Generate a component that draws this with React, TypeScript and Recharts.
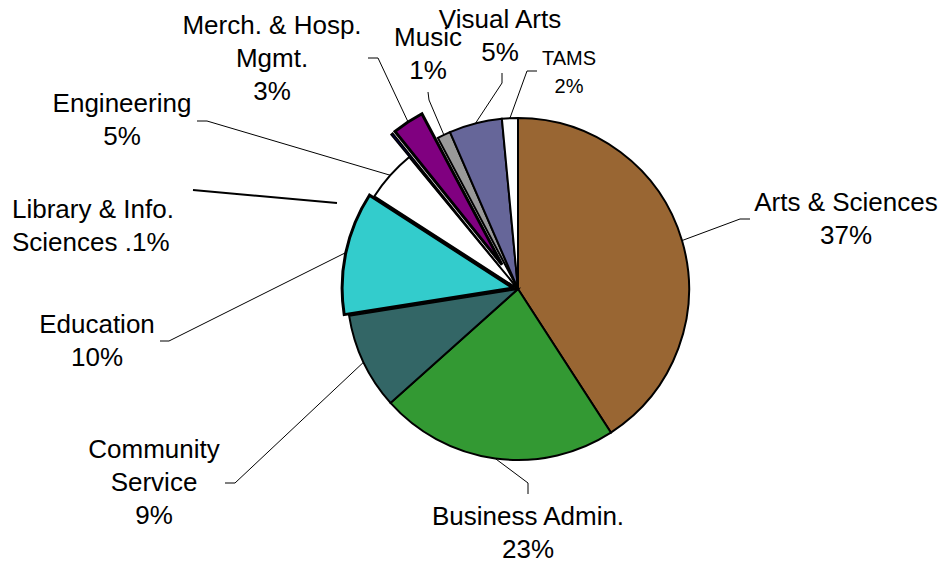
import React from "react";
import { Cell, Pie, PieChart, Sector } from "recharts";

// slices in clockwise order from 12 o'clock
const colleges = [
  "Arts & Sciences",
  "Business Admin.",
  "Community Service",
  "Education",
  "Engineering",
  "Library & Info. Sciences",
  "Merch. & Hosp. Mgmt.",
  "Music",
  "Visual Arts",
  "TAMS",
];
const shares = [40.8, 22.5, 9.1, 11.6, 4.9, 0.2, 3.0, 1.25, 5.0, 1.5];
const labelLines = [
  ["Arts & Sciences", "37%"],
  ["Business Admin.", "23%"],
  ["Community", "Service", "9%"],
  ["Education", "10%"],
  ["Engineering", "5%"],
  ["Library & Info.", "Sciences .1%"],
  ["Merch. & Hosp.", "Mgmt.", "3%"],
  ["Music", "1%"],
  ["Visual Arts", "5%"],
  ["TAMS", "2%"],
];

const sliceColors = [
  "#996633",
  "#339933",
  "#336666",
  "#33CCCC",
  "#FFFFFF",
  "#000080",
  "#800080",
  "#999999",
  "#666699",
  "#FFFFFF",
];
const explode = [0, 0, 0, 5, 0, 29, 29, 0, 0, 0];

// text position (first baseline) and leader bends, in chart pixels
const labelLayout: any[] = [
  { x: 846, y: 211, anchor: "middle", leader: [[740, 219], [750, 219]] },
  { x: 528, y: 525, anchor: "middle", leader: [[528, 483], [528, 494]] },
  { x: 154, y: 458, anchor: "middle", leader: [[235, 483], [225, 483]] },
  { x: 97, y: 333, anchor: "middle", leader: [[169, 341], [160, 341]] },
  { x: 122, y: 112, anchor: "middle", leader: [[207, 121], [197, 121]] },
  { x: 12, y: 218, anchor: "start", from: [337, 203], leader: [[193, 190]], lw: 2 },
  { x: 272, y: 34, anchor: "middle", leader: [[378, 58], [368, 58]] },
  { x: 428, y: 46, anchor: "middle", leader: [[429, 100], [428, 92]] },
  { x: 500, y: 28, anchor: "middle", leader: [[502, 83], [502, 73]] },
  { x: 569, y: 65, anchor: "middle", leader: [[527, 71], [537, 71]], small: true },
];

const data = colleges.map((name, i) => ({ name, value: shares[i] }));
const RAD = Math.PI / 180;

function renderLabel(props: any) {
  const { cx, cy, midAngle, innerRadius, outerRadius, startAngle, endAngle, index } = props;
  const off = explode[index];
  const ox = cx + off * Math.cos(-midAngle * RAD);
  const oy = cy + off * Math.sin(-midAngle * RAD);
  const lay = labelLayout[index];
  const start = lay.from || [
    ox + outerRadius * Math.cos(-midAngle * RAD),
    oy + outerRadius * Math.sin(-midAngle * RAD),
  ];
  const pts = [start, ...lay.leader].map((p: number[]) => p.join(",")).join(" ");
  const fs = lay.small ? 20 : 26;
  const lh = lay.small ? 28 : 33;
  return (
    <g key={`lbl-${index}`}>
      {off > 0 && (
        <Sector
          cx={ox}
          cy={oy}
          innerRadius={innerRadius}
          outerRadius={outerRadius}
          startAngle={startAngle}
          endAngle={endAngle}
          fill={sliceColors[index]}
          stroke="#000"
          strokeWidth={index === 5 ? 1.5 : 3}
        />
      )}
      <polyline points={pts} fill="none" stroke="#000" strokeWidth={lay.lw || 1} />
      <text
        x={lay.x}
        y={lay.y}
        textAnchor={lay.anchor}
        fontSize={fs}
        fontFamily="'Liberation Sans', Arial, sans-serif"
        fill="#000"
      >
        {labelLines[index].map((t, j) => (
          <tspan key={j} x={lay.x} y={lay.y + j * lh}>
            {t}
          </tspan>
        ))}
      </text>
    </g>
  );
}

export default function App() {
  return (
    <div style={{ position: "absolute", left: 0, top: 0, width: 946, height: 562, background: "#fff" }}>
      <PieChart width={946} height={562} margin={{ top: 0, right: 0, bottom: 0, left: 0 }}>
        <Pie
          data={data}
          dataKey="value"
          nameKey="name"
          cx={518}
          cy={289}
          outerRadius={171}
          startAngle={90}
          endAngle={-270}
          stroke="#000"
          strokeWidth={2}
          label={renderLabel}
          labelLine={false}
          isAnimationActive={false}
        >
          {data.map((d, i) => (
            <Cell
              key={d.name}
              fill={explode[i] > 0 ? "none" : sliceColors[i]}
              stroke={explode[i] > 0 ? "none" : "#000"}
            />
          ))}
        </Pie>
      </PieChart>
    </div>
  );
}
